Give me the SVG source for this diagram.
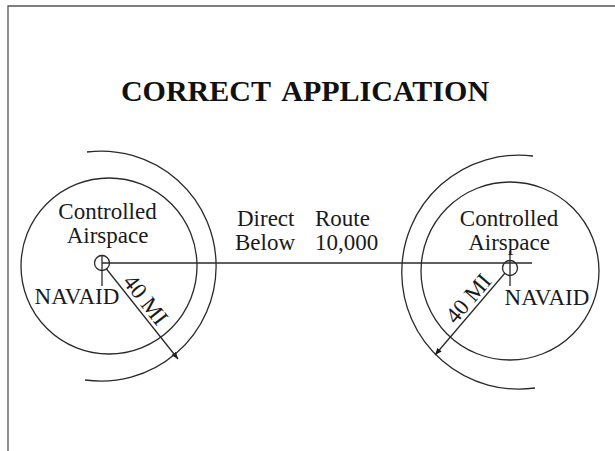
<svg xmlns="http://www.w3.org/2000/svg" width="615" height="451" viewBox="0 0 615 451">
<style>
.ln{fill:none;stroke:#2a2a2a;stroke-width:1.3}
.t{font-family:"Liberation Serif","Times New Roman",serif;font-size:23px;fill:#1a1a1a}
.title{font-family:"Liberation Serif","Times New Roman",serif;font-size:30px;font-weight:bold;fill:#111;word-spacing:5px}
</style>
<defs>
<marker id="ah" viewBox="0 0 10 10" refX="10" refY="5" markerWidth="7" markerHeight="7" orient="auto" markerUnits="userSpaceOnUse">
<path d="M0,1 L10,5 L0,9 z" fill="#1a1a1a"/>
</marker>
</defs>
<rect width="615" height="451" fill="#ffffff"/>
<path d="M8,451 V6 H615" fill="none" stroke="#555" stroke-width="1.3"/>
<text class="title" x="305" y="101" text-anchor="middle">CORRECT APPLICATION</text>
<g id="connectors">
<line class="ln" x1="102" y1="263" x2="532" y2="263"/>
<line class="ln" x1="106.5" y1="269" x2="178" y2="359" marker-end="url(#ah)"/>
<line class="ln" x1="505" y1="273" x2="435" y2="355" marker-end="url(#ah)"/>
</g>
<g id="left-navaid">
<circle class="ln" cx="109" cy="266" r="88"/>
<path class="ln" d="M87,152 A115,115 0 1 1 85,380"/>
<circle class="ln" cx="102" cy="263" r="7.5"/>
<line class="ln" x1="102" y1="255.5" x2="102" y2="286"/>
<text class="t" x="107.5" y="219" text-anchor="middle">Controlled</text>
<text class="t" x="107.5" y="243" text-anchor="middle">Airspace</text>
<text class="t" x="77" y="304" text-anchor="middle">NAVAID</text>
<text class="t" transform="translate(139.6,304.5) rotate(51.9)" text-anchor="middle">40 MI</text>
</g>
<g id="route-label">
<text class="t" x="237" y="226">Direct<tspan x="315">Route</tspan></text>
<text class="t" x="235" y="250">Below<tspan x="315">10,000</tspan></text>
</g>
<g id="right-navaid">
<circle class="ln" cx="510" cy="271" r="89"/>
<path class="ln" d="M533,156 A117,117 0 1 0 535,388"/>
<circle class="ln" cx="510" cy="268" r="7.5"/>
<line class="ln" x1="510" y1="251" x2="510" y2="286"/>
<text class="t" x="509" y="226" text-anchor="middle">Controlled</text>
<text class="t" x="509" y="250" text-anchor="middle">Airspace</text>
<text class="t" x="547" y="305" text-anchor="middle">NAVAID</text>
<text class="t" transform="translate(474,303.4) rotate(-49.2)" text-anchor="middle">40 MI</text>
</g>
</svg>
